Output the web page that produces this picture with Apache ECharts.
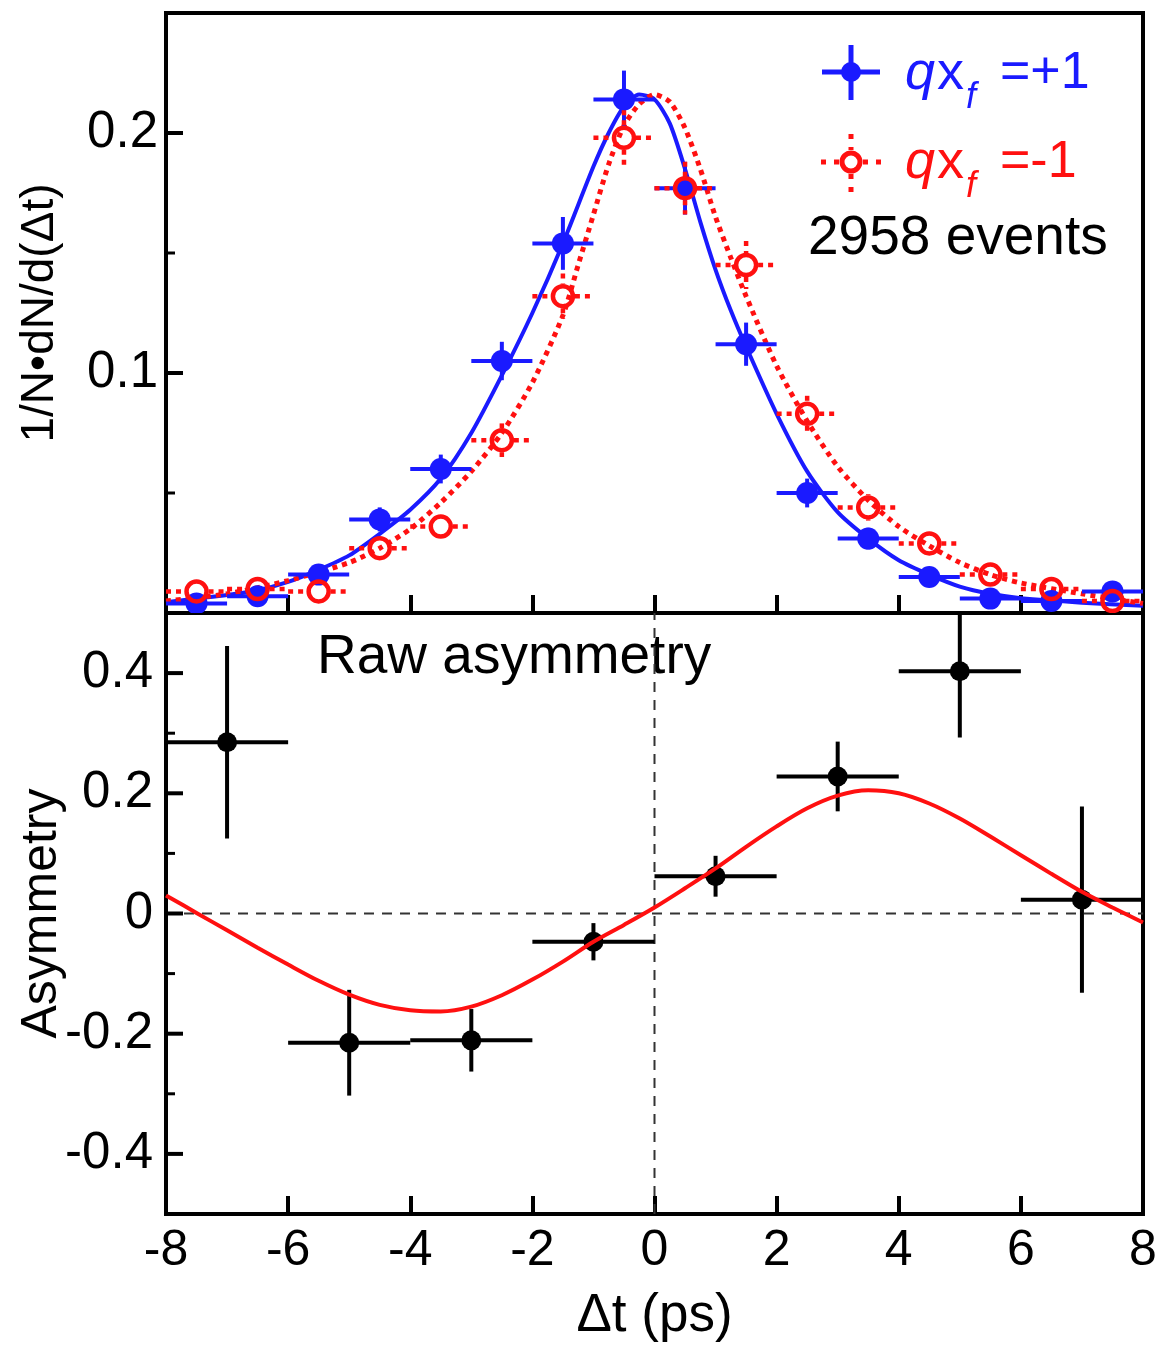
<!DOCTYPE html>
<html>
<head>
<meta charset="utf-8">
<script src="https://cdn.jsdelivr.net/npm/echarts@6/dist/echarts.min.js"></script>
<style>
html,body{margin:0;padding:0;background:#fff;}
#c{width:1162px;height:1352px;}
</style>
</head>
<body>
<div id="c"></div>
<script>
// ---------- data ----------
const binX = [-7.5,-6.5,-5.5,-4.5,-3.5,-2.5,-1.5,-0.5,0.5,1.5,2.5,3.5,4.5,5.5,6.5,7.5];
const binHalf = 0.5;
const blueY   = [0.004,0.007,0.016,0.039,0.060,0.105,0.154,0.214,0.177,0.112,0.050,0.031,0.015,0.006,0.005,0.009];
const blueErr = [0.002,0.002,0.003,0.005,0.006,0.008,0.011,0.012,0.011,0.009,0.006,0.0045,0.003,0.002,0.002,0.002];
const redY    = [0.009,0.010,0.009,0.027,0.036,0.072,0.132,0.198,0.177,0.145,0.083,0.044,0.029,0.016,0.010,0.005];
const redErr  = [0.0025,0.0026,0.0025,0.004,0.005,0.007,0.0095,0.0115,0.011,0.010,0.0075,0.0055,0.0045,0.0033,0.0026,0.002];

const blueFitX = [-8,-7.5,-7,-6.5,-6,-5.5,-5,-4.5,-4,-3.5,-3,-2.5,-2,-1.5,-1,-0.75,-0.5,-0.25,0,0.25,0.5,0.75,1,1.25,1.5,2,2.5,3,3.5,4,4.5,5,5.5,6,7,8];
const blueFitY = [0.0045,0.006,0.0075,0.0095,0.013,0.018,0.024,0.033,0.043,0.056,0.075,0.099,0.125,0.154,0.186,0.200,0.211,0.216,0.214,0.204,0.185,0.163,0.143,0.126,0.111,0.083,0.059,0.042,0.031,0.022,0.016,0.011,0.008,0.0062,0.0043,0.003];

const redFitX = [-8,-7,-6,-5,-4.5,-4,-3.5,-3,-2.5,-2,-1.5,-1.25,-1,-0.75,-0.5,-0.25,0,0.25,0.5,0.75,1,1.25,1.5,2,2.5,3,3.5,4,4.5,5,5.5,6,7,8];
const redFitY = [0.005,0.008,0.0135,0.021,0.027,0.035,0.046,0.059,0.075,0.096,0.124,0.145,0.166,0.187,0.203,0.212,0.216,0.213,0.202,0.185,0.165,0.148,0.132,0.103,0.080,0.061,0.047,0.036,0.028,0.021,0.016,0.0125,0.008,0.004];

const asymX    = [-7,-5,-3,-1,1,3,5,7];
const asymHalf = 1;
const asymY    = [0.285,-0.215,-0.211,-0.047,0.062,0.228,0.403,0.023];
const asymErr  = [0.160,0.088,0.052,0.031,0.034,0.058,0.11,0.155];

const asymFitX = [-8,-7.5,-7,-6.5,-6,-5.5,-5,-4.5,-4,-3.5,-3,-2.5,-2,-1.5,-1,-0.5,0,0.5,1,1.5,2,2.5,3,3.5,4,4.5,5,5.5,6,6.5,7,7.5,8];
const asymFitY = [0.03,0.001,-0.028,-0.057,-0.085,-0.112,-0.135,-0.152,-0.161,-0.163,-0.155,-0.136,-0.11,-0.08,-0.047,-0.019,0.01,0.042,0.075,0.111,0.145,0.175,0.196,0.205,0.2,0.183,0.158,0.128,0.097,0.066,0.036,0.01,-0.015];

const xTicks = [-8,-6,-4,-2,0,2,4,6,8];
const xInnerTicks = [-6,-4,-2,0,2,4,6];
const topYTicks = [0.1,0.2];
const topYMinor = [0.05,0.15];
const botYTicks = [-0.4,-0.2,0,0.2,0.4];
const botYMinor = [-0.3,-0.1,0.1,0.3];

// ---------- build ----------
const FONT = '"Liberation Sans", Arial, Helvetica, sans-serif';
const BLUE = '#1a1aff';
const RED = '#ff1010';

function zip(a,b){ return a.map((v,i)=>[v,b[i]]); }
function zip4(a,b,c,h){ return a.map((v,i)=>[v,b[i],c[i],h]); }

function errRender(color, filled, dashed, radius, lw){
  return function(params, api){
    const x=api.value(0), y=api.value(1), e=api.value(2), hw=api.value(3);
    const c=api.coord([x,y]);
    const l=api.coord([x-hw,y]), r=api.coord([x+hw,y]);
    const t=api.coord([x,y+e]), b=api.coord([x,y-e]);
    const st = {stroke:color, lineWidth:lw, lineDash: dashed?[5,5]:null};
    const ch = [];
    if (dashed){
      const g = radius;
      if (l[0] < c[0]-g) ch.push({type:'line',shape:{x1:l[0],y1:l[1],x2:c[0]-g,y2:c[1]},style:st});
      if (r[0] > c[0]+g) ch.push({type:'line',shape:{x1:c[0]+g,y1:c[1],x2:r[0],y2:r[1]},style:st});
      if (t[1] < c[1]-g) ch.push({type:'line',shape:{x1:c[0],y1:t[1],x2:c[0],y2:c[1]-g},style:st});
      if (b[1] > c[1]+g) ch.push({type:'line',shape:{x1:c[0],y1:c[1]+g,x2:c[0],y2:b[1]},style:st});
    } else {
      ch.push({type:'line',shape:{x1:l[0],y1:l[1],x2:r[0],y2:r[1]},style:st});
      ch.push({type:'line',shape:{x1:t[0],y1:t[1],x2:b[0],y2:b[1]},style:st});
    }
    if (filled) ch.push({type:'circle',shape:{cx:c[0],cy:c[1],r:radius},style:{fill:color}});
    else ch.push({type:'circle',shape:{cx:c[0],cy:c[1],r:radius-2},style:{fill:'none',stroke:color,lineWidth:4.5}});
    return {type:'group', children:ch};
  };
}

// y-axis labels (through the axis scale)
function labelRender(margin){
  return function(params, api){
    const v = api.value(0);
    const p = api.coord([-8, v]);
    return {type:'text', x:p[0]-margin, y:p[1],
      style:{text:String(v), font:'51px '+FONT, fill:'#000', align:'right', verticalAlign:'middle'}};
  };
}
// y-axis tick marks (major flag 1 / minor flag 0), drawn as filled bars on their own layer
function tickData(major, minor){ return major.map(v=>[v,1]).concat(minor.map(v=>[v,0])); }
function tickRender(params, api){
  const v = api.value(0), isMajor = api.value(1) === 1;
  const p = api.coord([-8, v]);
  const len = isMajor ? 17 : 9, th = isMajor ? 4 : 3;
  return {type:'rect', shape:{x:p[0], y:p[1]-th/2, width:len, height:th}, style:{fill:'#000'}};
}

const tickStyle = {color:'#000', width:4};
function xAxisMake(gi, withLabels){
  const a = {
    gridIndex:gi, type:'value', min:-8, max:8, interval:2, position:'bottom',
    axisLine:{show:false, onZero:false}, splitLine:{show:false},
    axisTick:{show:true, inside:true, length:18, lineStyle:tickStyle, customValues:xInnerTicks},
    axisLabel:{show:false}
  };
  if (withLabels){
    a.axisLabel = {show:true, fontSize:50, color:'#000', fontFamily:FONT, margin:12, customValues:xTicks};
    a.name = 'Δt (ps)'; a.nameLocation = 'middle'; a.nameGap = 76;
    a.nameTextStyle = {fontSize:53, color:'#000', fontFamily:FONT};
  }
  return a;
}
function yAxisMake(gi, mn, mx, name, nameSize, nameGap){
  return {gridIndex:gi, type:'value', min:mn, max:mx, position:'left',
    axisLine:{show:false, onZero:false}, splitLine:{show:false},
    axisTick:{show:false}, axisLabel:{show:false},
    name:name, nameLocation:'middle', nameGap:nameGap, nameRotate:90,
    nameTextStyle:{fontSize:nameSize, color:'#000', fontFamily:FONT}};
}

const option = {
  animation:false,
  backgroundColor:'#fff',
  grid:[
    {left:166, right:19, top:13, height:600, show:true, borderColor:'#000', borderWidth:4,
     containLabel:false, outerBoundsMode:'none'},
    {left:166, right:19, top:613, height:601, show:true, borderColor:'#000', borderWidth:4,
     containLabel:false, outerBoundsMode:'none'}
  ],
  xAxis:[ xAxisMake(0,false), xAxisMake(1,true) ],
  yAxis:[
    yAxisMake(0, 0, 0.25, '1/N•dN/d(Δt)', 46, 103),
    yAxisMake(1, -0.5, 0.5, 'Asymmetry', 50, 99)
  ],
  series:[
    {type:'custom', xAxisIndex:0, yAxisIndex:0, data:topYTicks.map(v=>[v]),
     renderItem:labelRender(8), clip:false, silent:true, z:6},
    {type:'custom', xAxisIndex:1, yAxisIndex:1, data:botYTicks.map(v=>[v]),
     renderItem:labelRender(13), clip:false, silent:true, z:6},
    {type:'custom', xAxisIndex:0, yAxisIndex:0, data:tickData(topYTicks, topYMinor),
     renderItem:tickRender, clip:false, silent:true, zlevel:1, z:10},
    {type:'custom', xAxisIndex:1, yAxisIndex:1, data:tickData(botYTicks, botYMinor),
     renderItem:tickRender, clip:false, silent:true, zlevel:1, z:10},

    {type:'line', xAxisIndex:0, yAxisIndex:0, data:zip(blueFitX, blueFitY), smooth:0.25, showSymbol:false,
     lineStyle:{color:BLUE, width:4}, z:2},
    {type:'line', xAxisIndex:0, yAxisIndex:0, data:zip(redFitX, redFitY), smooth:0.25, showSymbol:false,
     lineStyle:{color:RED, width:5, type:[5,5]}, z:2},
    {type:'custom', xAxisIndex:0, yAxisIndex:0, data:zip4(binX, blueY, blueErr, binHalf),
     renderItem:errRender(BLUE, true, false, 11, 4), clip:true, z:3},
    {type:'custom', xAxisIndex:0, yAxisIndex:0, data:zip4(binX, redY, redErr, binHalf),
     renderItem:errRender(RED, false, true, 12, 4.5), clip:true, z:4},

    {type:'line', xAxisIndex:1, yAxisIndex:1, data:[[-8,0],[8,0]], showSymbol:false,
     lineStyle:{color:'#333', width:2, type:[10,8]}, z:1},
    {type:'line', xAxisIndex:1, yAxisIndex:1, data:[[0,-0.5],[0,0.5]], showSymbol:false,
     lineStyle:{color:'#333', width:2, type:[10,8]}, z:1},
    {type:'custom', xAxisIndex:1, yAxisIndex:1, data:zip4(asymX, asymY, asymErr, asymHalf),
     renderItem:errRender('#000', true, false, 10, 4), clip:true, z:3},
    {type:'line', xAxisIndex:1, yAxisIndex:1, data:zip(asymFitX, asymFitY), smooth:0.3, showSymbol:false,
     lineStyle:{color:RED, width:4}, z:4}
  ],
  graphic:[
    // legend icon +1
    {type:'line', shape:{x1:822,y1:72,x2:880,y2:72}, style:{stroke:BLUE, lineWidth:5}},
    {type:'line', shape:{x1:851,y1:45,x2:851,y2:100}, style:{stroke:BLUE, lineWidth:5}},
    {type:'circle', shape:{cx:851,cy:72,r:10}, style:{fill:BLUE}},
    // legend icon -1
    {type:'line', shape:{x1:821,y1:162,x2:839,y2:162}, style:{stroke:RED, lineWidth:5, lineDash:[5,8]}},
    {type:'line', shape:{x1:863,y1:162,x2:881,y2:162}, style:{stroke:RED, lineWidth:5, lineDash:[5,8]}},
    {type:'line', shape:{x1:851,y1:134,x2:851,y2:150}, style:{stroke:RED, lineWidth:5, lineDash:[5,8]}},
    {type:'line', shape:{x1:851,y1:174,x2:851,y2:192}, style:{stroke:RED, lineWidth:5, lineDash:[5,8]}},
    {type:'circle', shape:{cx:851,cy:162,r:9}, style:{fill:'#fff', stroke:RED, lineWidth:5}},
    // legend texts
    {type:'text', x:905, y:74, style:{text:'q', font:'italic 54px '+FONT, fill:BLUE, textVerticalAlign:'middle'}},
    {type:'text', x:937, y:74, style:{text:'x', font:'54px '+FONT, fill:BLUE, textVerticalAlign:'middle'}},
    {type:'text', x:966, y:98, style:{text:'f', font:'italic 36px '+FONT, fill:BLUE, textVerticalAlign:'middle'}},
    {type:'text', x:1000, y:74, style:{text:'=+1', font:'52px '+FONT, fill:BLUE, textVerticalAlign:'middle'}},
    {type:'text', x:905, y:163, style:{text:'q', font:'italic 54px '+FONT, fill:RED, textVerticalAlign:'middle'}},
    {type:'text', x:937, y:163, style:{text:'x', font:'54px '+FONT, fill:RED, textVerticalAlign:'middle'}},
    {type:'text', x:966, y:187, style:{text:'f', font:'italic 36px '+FONT, fill:RED, textVerticalAlign:'middle'}},
    {type:'text', x:1000, y:163, style:{text:'=-1', font:'52px '+FONT, fill:RED, textVerticalAlign:'middle'}},
    {type:'text', x:808, y:239, style:{text:'2958 events', font:'55px '+FONT, fill:'#000', textVerticalAlign:'middle'}},
    {type:'text', x:317, y:658, style:{text:'Raw asymmetry', font:'55px '+FONT, fill:'#000', textVerticalAlign:'middle'}}
  ]
};

const chart = echarts.init(document.getElementById('c'), null, {renderer:'canvas'});
chart.setOption(option);
</script>
</body>
</html>
